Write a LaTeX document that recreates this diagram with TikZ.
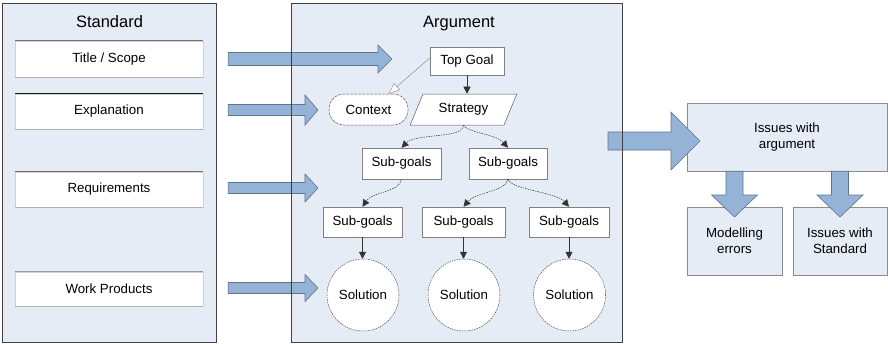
\documentclass[tikz,border=0pt]{standalone}
\usepackage{fontspec}
\setmainfont{Liberation Sans}
\usetikzlibrary{calc,arrows.meta,shapes.geometric}
\definecolor{panel}{RGB}{230,236,246}
\definecolor{barrow}{RGB}{149,179,215}
\definecolor{barrowline}{RGB}{95,115,140}
\definecolor{frame}{RGB}{64,64,64}
\newcommand\blockR[5]{\path[blockarrow] let \p1=(#1), \p2=(#2) in (\x1,\y1+#3pt) -- (\x2-#5pt,\y1+#3pt) -- (\x2-#5pt,\y1+#4pt) -- (\x2,\y1) -- (\x2-#5pt,\y1-#4pt) -- (\x2-#5pt,\y1-#3pt) -- (\x1,\y1-#3pt) -- cycle;}
\newcommand\blockD[5]{\path[blockarrow] let \p1=(#1), \p2=(#2) in (\x1-#3pt,\y1) -- (\x1-#3pt,\y2+#5pt) -- (\x1-#4pt,\y2+#5pt) -- (\x1,\y2) -- (\x1+#4pt,\y2+#5pt) -- (\x1+#3pt,\y2+#5pt) -- (\x1+#3pt,\y1) -- cycle;}
\begin{document}
\begin{tikzpicture}[x=1pt,y=-1pt,
  fs/.style={font=\fontsize{13.3}{16}\selectfont},
  titlefont/.style={font=\fontsize{16.5}{19}\selectfont, inner sep=0pt},
  panelbox/.style={fill=panel, inner sep=0pt},
  stdbox/.style={fs, fill=white, draw=black!18, line width=0.5pt, minimum width=188pt, inner sep=0pt},
  goalbox/.style={fs, fill=white, draw=black!50, line width=0.5pt, inner sep=0pt},
  solnode/.style={fs, circle, fill=white, draw=black!70, dash pattern=on 1.5pt off 1pt, line width=0.5pt, minimum size=72pt, inner sep=0pt},
  ctxnode/.style={fs, rounded corners=15pt, fill=white, draw=black!65, dash pattern=on 3pt off 1pt, line width=0.5pt, inner sep=0pt},
  stratnode/.style={fs, trapezium, trapezium left angle=57, trapezium right angle=123, trapezium stretches=true, fill=white, draw=black!65, line width=0.5pt, inner sep=0pt},
  issuebox/.style={fs, fill=panel, draw=black!45, line width=0.5pt, inner sep=0pt, align=center},
  blockarrow/.style={fill=barrow, draw=barrowline, line width=0.6pt, line join=miter},
  link/.style={-{Triangle[length=7pt,width=7pt]}, draw=black!80, line width=0.5pt},
  dlink/.style={link, dash pattern=on 1.5pt off 1pt},
  ctxlink/.style={-{Triangle[length=11pt,width=9pt,fill=white]}, draw=black!50, line width=0.4pt},
  framed/.style={draw=frame, line width=0.8pt}]
\useasboundingbox (0,0) rectangle (888,343);
% panels
\node[panelbox, minimum width=213pt, minimum height=338pt] (stdpanel) at (109.5,173) {};
\node[panelbox, minimum width=330pt, minimum height=338pt] (argpanel) at (457,173) {};
\node[titlefont, anchor=base] (stdtitle) at (109.5,27) {Standard};
\node[titlefont, anchor=base] (argtitle) at (459,27) {Argument};
% standard items
\node[stdbox, minimum height=36pt] (ts) at (109,59) {Title / Scope};
\node[stdbox, minimum height=35pt] (ex) at (109,111.5) {Explanation};
\node[stdbox, minimum height=35pt] (rq) at (109,189.5) {Requirements};
\node[stdbox, minimum height=34pt] (wp) at (109,289) {Work Products};
\foreach \n/\c in {ts/black!55, ex/black!90, rq/black!55, wp/black!40}{
  \draw[\c, line width=0.6pt] (\n.north west) -- (\n.north east);
  \draw[black!30, line width=0.6pt] (\n.south west) -- (\n.south east);
}
% issues boxes
\node[issuebox, minimum width=200pt, minimum height=68pt] (iss) at (787,137) {Issues with\\argument};
\node[issuebox, minimum width=95pt, minimum height=68pt] (mod) at (734.5,241) {Modelling\\errors};
\node[issuebox, minimum width=94pt, minimum height=68pt] (iws) at (840,241) {Issues with\\Standard};
% block arrows
\coordinate (a1s) at ($(ts.east)+(25,0)$);
\coordinate (a1e) at (392,59);
\coordinate (a2s) at ($(ex.east)+(25,-1.5)$);
\coordinate (a2e) at (318,110);
\coordinate (a3s) at ($(rq.east)+(25,-1.5)$);
\coordinate (a3e) at (318,188);
\coordinate (a4s) at ($(wp.east)+(25,-1)$);
\coordinate (a4e) at (318,288);
\blockR{a1s}{a1e}{6.5}{14}{14}
\blockR{a2s}{a2e}{5.5}{15}{13}
\blockR{a3s}{a3e}{5.5}{14}{13}
\blockR{a4s}{a4e}{5.5}{13.5}{13}
\coordinate (a5s) at (608,141);
\coordinate (a5e) at (700,141);
\blockR{a5s}{a5e}{9}{29}{29}
\coordinate (a6e) at (734.5,217);
\coordinate (a7e) at (840,217);
\blockD{mod.north |- iss.south}{a6e}{8.5}{23}{22}
\blockD{iws.north |- iss.south}{a7e}{8.5}{23}{22}
% panel frames
\draw[framed] (stdpanel.south west) rectangle (stdpanel.north east);
\draw[framed] (argpanel.south west) rectangle (argpanel.north east);
% argument nodes
\node[goalbox, minimum width=74pt, minimum height=28pt] (top) at (467,61) {Top Goal};
\node[ctxnode, minimum width=79pt, minimum height=31pt] (ctx) at (368.5,109.5) {Context};
\node[stratnode, minimum width=107pt, minimum height=31pt] (strat) at (463.5,109.5) {Strategy};
\node[goalbox, minimum width=79pt, minimum height=31pt] (sg1) at (401.5,163.5) {Sub-goals};
\node[goalbox, minimum width=78pt, minimum height=31pt] (sg2) at (508,163.5) {Sub-goals};
\node[goalbox, minimum width=79pt, minimum height=30pt] (sg3) at (362.5,222) {Sub-goals};
\node[goalbox, minimum width=83pt, minimum height=30pt] (sg4) at (463.5,222) {Sub-goals};
\node[goalbox, minimum width=80pt, minimum height=30pt] (sg5) at (569,222) {Sub-goals};
\node[solnode] (sol1) at (363,295) {Solution};
\node[solnode] (sol2) at (464,295) {Solution};
\node[solnode] (sol3) at (569.5,295) {Solution};
% connectors
\draw[link] (top.south) -- (top.south |- strat.north);
\draw[ctxlink] ($(top.west)+(0,-3)$) -- (ctx.38);
\draw[dlink] (strat.south) .. controls (463,139) and (416,133) .. (sg1.north);
\draw[dlink] (strat.south) .. controls (468,133) and (496,134) .. (sg2.north);
\draw[dlink] (sg1.south) .. controls (400,192) and (372,192) .. (sg3.north);
\draw[dlink] (sg2.south) .. controls (505,192) and (476,192) .. (sg4.north);
\draw[dlink] (sg2.south) .. controls (512,190) and (556,192) .. (sg5.north);
\draw[link] (sg3.south) -- (sg3.south |- sol1.north);
\draw[link] (sg4.south) -- (sg4.south |- sol2.north);
\draw[link] (sg5.south) -- (sg5.south |- sol3.north);
\end{tikzpicture}
\end{document}
